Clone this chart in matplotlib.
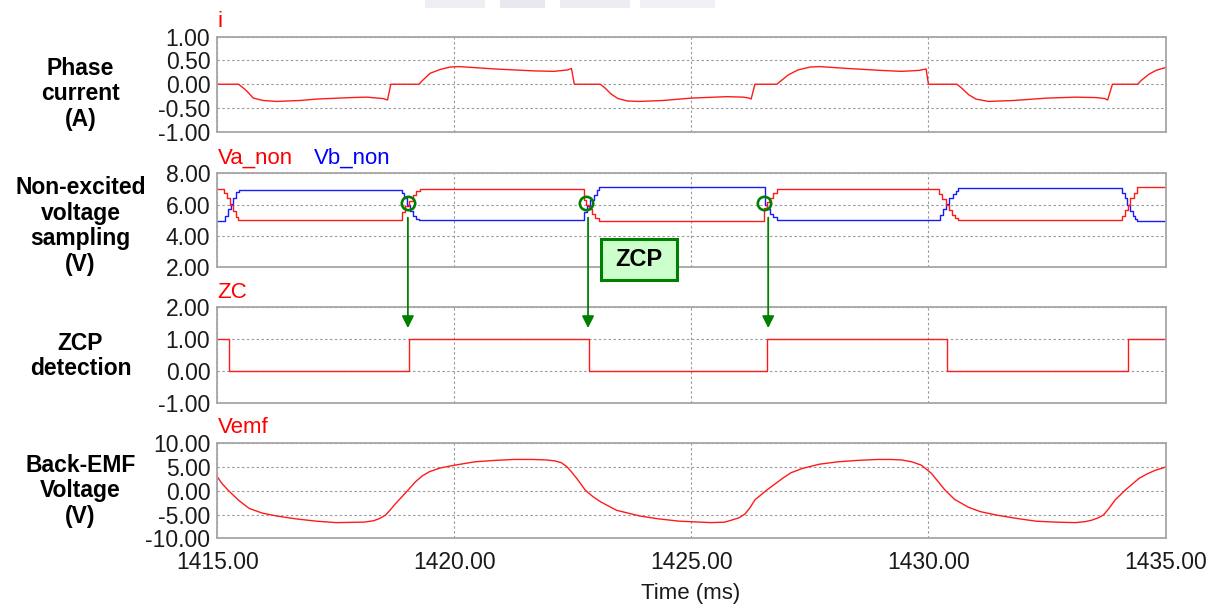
import matplotlib
matplotlib.use("Agg")
import matplotlib.pyplot as plt
from matplotlib.patches import Rectangle, ConnectionPatch
from matplotlib.ticker import FormatStrFormatter

# ---------------- data ----------------
time_ticks = [1415.0, 1420.0, 1425.0, 1430.0, 1435.0]

# phase current i (A)
i_t = [1415.00, 1415.45, 1415.55, 1415.62, 1415.76, 1415.97, 1416.25, 1416.75, 1417.10,
       1417.80, 1418.15, 1418.50, 1418.59, 1418.66, 1419.25, 1419.35, 1419.49, 1419.70,
       1419.91, 1420.10, 1420.85, 1421.68, 1422.10, 1422.39, 1422.47, 1422.53, 1423.08,
       1423.18, 1423.30, 1423.45, 1423.65, 1423.90, 1424.40, 1425.00, 1425.75, 1426.10,
       1426.22, 1426.26, 1426.34, 1426.80, 1426.90, 1427.05, 1427.25, 1427.50, 1427.70,
       1428.30, 1429.00, 1429.43, 1429.80, 1429.95, 1430.00, 1430.60, 1430.70, 1430.85,
       1431.00, 1431.27, 1431.80, 1432.50, 1433.10, 1433.55, 1433.72, 1433.78, 1433.88,
       1434.41, 1434.50, 1434.65, 1434.80, 1435.00]
i_v = [0.00, 0.00, -0.08, -0.14, -0.29, -0.34, -0.36, -0.34, -0.31,
       -0.28, -0.27, -0.30, -0.33, 0.00, 0.00, 0.10, 0.23, 0.31,
       0.36, 0.37, 0.32, 0.28, 0.27, 0.30, 0.33, 0.00, 0.00,
       -0.08, -0.20, -0.30, -0.35, -0.36, -0.34, -0.29, -0.26, -0.27,
       -0.29, -0.31, 0.00, 0.00, 0.08, 0.20, 0.30, 0.36, 0.37,
       0.33, 0.29, 0.27, 0.29, 0.32, 0.00, 0.00, -0.08, -0.22,
       -0.31, -0.36, -0.34, -0.29, -0.27, -0.28, -0.30, -0.33, 0.00,
       0.00, 0.09, 0.21, 0.29, 0.35]

# sampled non-excited phase voltages (V), step-wise
va_t = [1415.00, 1415.15, 1415.21, 1415.27, 1415.33, 1415.40, 1415.44,
        1418.89, 1418.96, 1419.05, 1419.13, 1419.20, 1419.27,
        1422.73, 1422.78, 1422.84, 1422.90, 1422.97, 1423.05,
        1426.54, 1426.60, 1426.66, 1426.72, 1426.80,
        1430.23, 1430.29, 1430.36, 1430.43, 1430.50, 1430.56, 1430.62,
        1434.08, 1434.14, 1434.20, 1434.26, 1434.33, 1434.40, 1435.00]
va_v = [7.02, 6.75, 6.40, 6.00, 5.60, 5.20, 5.00,
        5.55, 5.90, 6.25, 6.60, 6.85, 7.02,
        6.30, 6.00, 5.70, 5.40, 5.15, 4.97,
        5.80, 6.15, 6.45, 6.75, 6.98,
        6.70, 6.35, 6.00, 5.65, 5.35, 5.15, 5.00,
        5.30, 5.65, 6.00, 6.40, 6.75, 7.10, 7.10]
vb_t = [1415.00, 1415.17, 1415.22, 1415.28, 1415.34, 1415.40, 1415.45,
        1418.89, 1418.94, 1419.00, 1419.06, 1419.12, 1419.19, 1419.26,
        1422.73, 1422.80, 1422.87, 1422.94, 1423.01, 1423.06,
        1426.55, 1426.60, 1426.66, 1426.73, 1426.80,
        1430.25, 1430.31, 1430.37, 1430.44, 1430.51, 1430.58, 1430.62,
        1434.08, 1434.14, 1434.19, 1434.25, 1434.31, 1434.36, 1434.40, 1435.00]
vb_v = [4.97, 5.30, 5.70, 6.05, 6.45, 6.80, 6.95,
        6.75, 6.40, 6.00, 5.60, 5.30, 5.10, 5.00,
        5.55, 5.90, 6.30, 6.60, 6.95, 7.13,
        6.00, 5.70, 5.40, 5.20, 5.05,
        5.35, 5.70, 6.05, 6.40, 6.70, 6.90, 7.05,
        6.75, 6.40, 6.00, 5.60, 5.30, 5.10, 4.97, 4.97]

# zero-crossing detection flag
zc_t = [1415.00, 1415.24, 1419.04, 1422.84, 1426.59, 1430.40, 1434.21, 1435.00]
zc_v = [1, 0, 1, 0, 1, 0, 1, 1]

# back-EMF (V)
emf_t = [1415.00, 1415.10, 1415.24, 1415.45, 1415.67, 1415.95, 1416.25, 1416.65, 1417.09,
         1417.51, 1418.09, 1418.30, 1418.43, 1418.55, 1418.65, 1418.76, 1418.90, 1419.01,
         1419.18, 1419.32, 1419.47, 1419.70, 1420.01, 1420.43, 1420.85, 1421.26, 1421.65,
         1421.93, 1422.12, 1422.26, 1422.37, 1422.47, 1422.62, 1422.76, 1422.92, 1423.08,
         1423.42, 1423.91, 1424.30, 1424.75, 1425.42, 1425.70, 1425.84, 1426.00, 1426.13,
         1426.24, 1426.34, 1426.59, 1426.92, 1427.10, 1427.34, 1427.70, 1428.09, 1428.50,
         1428.93, 1429.20, 1429.43, 1429.65, 1429.85, 1430.06, 1430.35, 1430.55, 1430.85,
         1431.10, 1431.43, 1431.85, 1432.27, 1432.70, 1433.10, 1433.30, 1433.44, 1433.58,
         1433.69, 1433.80, 1433.94, 1434.15, 1434.44, 1434.60, 1434.78, 1435.00]
emf_v = [2.95, 1.5, 0.0, -2.0, -3.7, -4.7, -5.3, -5.9, -6.4,
         -6.7, -6.6, -6.3, -5.8, -5.1, -4.0, -2.7, -1.2, 0.0,
         1.9, 3.1, 4.0, 4.8, 5.4, 6.1, 6.4, 6.6, 6.6,
         6.5, 6.3, 5.9, 5.1, 4.0, 2.1, 0.15, -1.2, -2.3,
         -4.1, -5.3, -5.9, -6.4, -6.7, -6.6, -6.2, -5.7, -4.9,
         -3.5, -1.9, 0.15, 2.6, 3.8, 4.7, 5.6, 6.1, 6.4,
         6.6, 6.6, 6.5, 6.1, 5.4, 3.7, 0.15, -1.8, -3.5,
         -4.4, -5.1, -5.8, -6.4, -6.6, -6.7, -6.5, -6.2, -5.7,
         -5.1, -3.8, -1.9, 0.15, 2.6, 3.5, 4.3, 5.0]

# detected zero-crossing points marked on the sampled voltages
zcp_t = [1419.02, 1422.77, 1426.53]
zcp_v = [6.12, 6.12, 6.12]
arrow_t = [1419.02, 1422.82, 1426.62]

# ---------------- figure ----------------
W, H = 1221, 610
plt.rcParams['font.family'] = ['Liberation Sans', 'DejaVu Sans']
fig = plt.figure(figsize=(W / 100, H / 100), dpi=100)
fig.patch.set_facecolor('white')


def px_box(left, top, right, bottom):
    return [left / W, 1 - bottom / H, (right - left) / W, (bottom - top) / H]


def fx(x):
    return x / W


def fy(y):
    return 1 - y / H


L, R = 217.3, 1165.5
ax1 = fig.add_axes(px_box(L, 36.5, R, 132.0))
ax2 = fig.add_axes(px_box(L, 173.3, R, 267.3))
ax3 = fig.add_axes(px_box(L, 307.3, R, 403.3))
ax4 = fig.add_axes(px_box(L, 443.3, R, 538.3))
axes = [ax1, ax2, ax3, ax4]

ylims = [(-1, 1), (2, 8), (-1, 2), (-10, 10)]
yticks = [[-1, -0.5, 0, 0.5, 1], [2, 4, 6, 8], [-1, 0, 1, 2], [-10, -5, 0, 5, 10]]

for ax, yl, yt in zip(axes, ylims, yticks):
    ax.set_xlim(time_ticks[0], time_ticks[-1])
    ax.set_ylim(*yl)
    ax.set_xticks(time_ticks)
    ax.set_yticks(yt)
    ax.yaxis.set_major_formatter(FormatStrFormatter('%.2f'))
    ax.xaxis.set_major_formatter(FormatStrFormatter('%.2f'))
    ax.grid(True, color='#9a9a9a', linestyle=(0, (2.2, 2.2)), linewidth=0.8)
    ax.set_axisbelow(True)
    for s in ax.spines.values():
        s.set_color('#a6a6a6')
        s.set_linewidth(1.3)
    ax.tick_params(length=0, labelsize=16.5, colors='#1a1a1a')
    ax.tick_params(axis='y', pad=5)
    ax.tick_params(axis='x', pad=9)
    if ax is not ax4:
        ax.tick_params(labelbottom=False)

ax1.plot(i_t, i_v, color='#ff1a1a', lw=1.0)
ax2.plot(vb_t, vb_v, color='#1a1aff', lw=1.0, drawstyle='steps-post')
ax2.plot(va_t, va_v, color='#ff1a1a', lw=1.0, drawstyle='steps-post')
ax3.plot(zc_t, zc_v, color='#ff1a1a', lw=1.0, drawstyle='steps-post')
ax4.plot(emf_t, emf_v, color='#ff1a1a', lw=1.0)

ax2.plot(zcp_t, zcp_v, linestyle='none', marker='o', markersize=9.6,
         markerfacecolor='none', markeredgecolor='#008000', markeredgewidth=1.9,
         zorder=6, clip_on=False)

# series names above each panel
name_kw = dict(fontsize=16, va='baseline', ha='left')
fig.text(fx(217.5), fy(27.0), 'i', color='#ff0000', **name_kw)
fig.text(fx(217.5), fy(163.3), 'Va_non', color='#ff0000', **name_kw)
fig.text(fx(313.6), fy(163.3), 'Vb_non', color='#0000ff', **name_kw)
fig.text(fx(217.5), fy(298.0), 'ZC', color='#ff0000', **name_kw)
fig.text(fx(217.5), fy(433.3), 'Vemf', color='#ff0000', **name_kw)

# panel titles on the left
title_kw = dict(fontsize=16.5, fontweight='bold', ha='center', va='center',
                multialignment='center', linespacing=1.16, color='black')
fig.text(fx(80.5), fy(94.0), 'Phase\ncurrent\n(A)', **title_kw)
fig.text(fx(80.5), fy(226.0), 'Non-excited\nvoltage\nsampling\n(V)', **title_kw)
fig.text(fx(80.5), fy(356.0), 'ZCP\ndetection', **title_kw)
fig.text(fx(80.5), fy(491.0), 'Back-EMF\nVoltage\n(V)', **title_kw)

fig.text(fx(691.0), fy(599.0), 'Time (ms)', fontsize=16, ha='center',
         va='baseline', color='#1a1a1a')

# arrows from each marked crossing down to the detection edge
for t in arrow_t:
    con = ConnectionPatch(xyA=(t, 5.17), coordsA=ax2.transData,
                          xyB=(t, 1.35), coordsB=ax3.transData,
                          arrowstyle='-|>', mutation_scale=18, color='#008000',
                          lw=1.3, shrinkA=0, shrinkB=0, zorder=7)
    fig.add_artist(con)

# ZCP tag
fig.add_artist(Rectangle((fx(600.7), fy(280.0)), (676.7 - 600.7) / W, (280.0 - 238.7) / H,
                         transform=fig.transFigure, facecolor='#ccffcc',
                         edgecolor='#008000', linewidth=2.2, zorder=8))
fig.text(fx(638.7), fy(259.5), 'ZCP', fontsize=17, fontweight='bold',
         ha='center', va='center', color='black', zorder=9)

# faint smudge along the top edge
for x0, w, c in [(425, 60, '#eeeef4'), (500, 45, '#e8e8f0'), (560, 70, '#ececf3'),
                 (640, 75, '#f0f0f5')]:
    fig.add_artist(Rectangle((fx(x0), fy(8)), w / W, 8 / H, transform=fig.transFigure,
                             facecolor=c, edgecolor='none', zorder=0))

fig.savefig('out.png', dpi=100, facecolor='white')
